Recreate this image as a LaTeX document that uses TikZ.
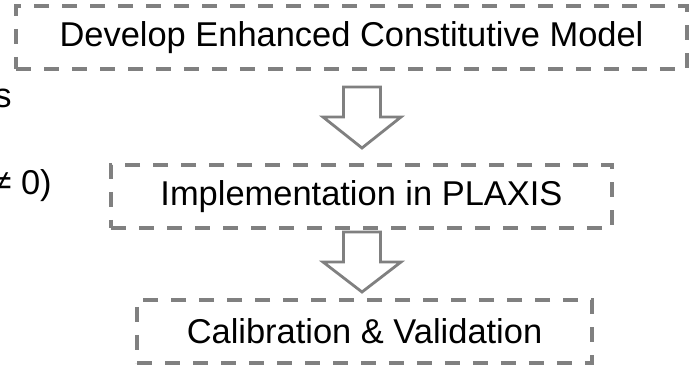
\documentclass[tikz,border=0pt]{standalone}
\usepackage{fontspec}
\setmainfont{Liberation Sans}
\definecolor{boxgray}{RGB}{128,128,128}
\begin{document}
\begin{tikzpicture}[
  stagebox/.style={draw=boxgray, line width=2.5pt, dash pattern=on 0.37cm off 0.33cm, rectangle, minimum height=1.575cm, align=center, font=\fontsize{24.5pt}{29pt}\selectfont},
  cuttext/.style={font=\fontsize{24.5pt}{29pt}\selectfont, inner sep=0pt, anchor=base east},
  hollowarrow/.style={draw=boxgray, line width=2pt, fill=white, line join=miter}
]
\useasboundingbox (0,0) rectangle (17.45,9.15);

\node[stagebox, minimum width=16.775cm] (model) at (8.7875,8.2125) {Develop Enhanced Constitutive Model};
\node[stagebox, minimum width=12.525cm] (plaxis) at (9.0375,4.2375) {Implementation in PLAXIS};
\node[stagebox, minimum width=11.375cm] (calib) at (9.1125,0.8625) {Calibration \& Validation};

% text cut off at the left edge
\node[cuttext] (leftword) at (0.3,6.45) {s};
\node[cuttext] (leftcond) at (1.3,4.275) {≠ 0)};

% hollow block arrows between the stages
\draw[hollowarrow] (8.5875,6.975) -- (9.5125,6.975) -- (9.5125,6.225) -- (10.025,6.225) -- (9.05,5.45) -- (8.075,6.225) -- (8.5875,6.225) -- cycle;
\draw[hollowarrow] (8.5875,3.35) -- (9.5125,3.35) -- (9.5125,2.6) -- (10.025,2.6) -- (9.05,1.85) -- (8.075,2.6) -- (8.5875,2.6) -- cycle;
\end{tikzpicture}
\end{document}
